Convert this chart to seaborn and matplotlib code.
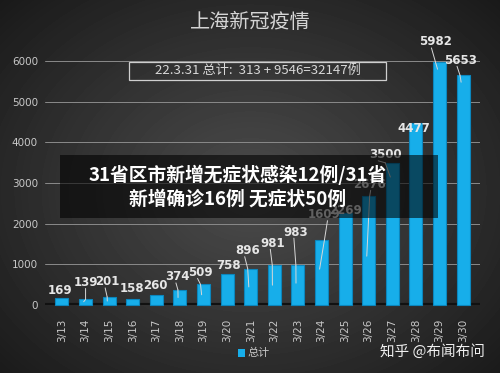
import numpy as np
import pandas as pd
import matplotlib
matplotlib.use("Agg")
import matplotlib.pyplot as plt
import seaborn as sns
from matplotlib.patches import Rectangle

dates = ["3/13", "3/14", "3/15", "3/16", "3/17", "3/18", "3/19", "3/20", "3/21",
         "3/22", "3/23", "3/24", "3/25", "3/26", "3/27", "3/28", "3/29", "3/30"]
totals = [169, 139, 201, 158, 260, 374, 509, 758, 896,
          981, 983, 1609, 2269, 2676, 3500, 4477, 5982, 5653]
y_ticks = [0, 1000, 2000, 3000, 4000, 5000, 6000]

title = "上海新冠疫情"
note = "22.3.31 总计:  313 + 9546=32147例"
banner = "31省区市新增无症状感染12例/31省\n新增确诊16例 无症状50例"
legend_label = "总计"
watermark = "知乎 @布闻布问"

# label offsets from bar top in pixels (dx, dy)
label_offsets = [(-2, 8), (0, 17), (-2, 15), (-1, 10), (-1, 9), (-2, 13), (-3, 12),
                 (1, 9), (-3, 18), (-2, 22), (-2, 33), (3, 25), (0, 2), (1, 12),
                 (-7, 8), (-2, -5), (-4, 20), (-3, 15)]
# leader line end, as fraction of bar height (None = no line)
leader_end = [None, 0.6, 0.5, None, None, 0.5, 0.5, None, 0.5,
              0.5, 0.55, 0.55, None, 0.45, 0.9, None, 0.97, 0.97]

df = pd.DataFrame({"date": dates, "total": totals})

sns.set_theme(style="dark")
plt.rcParams["font.family"] = ["Noto Sans CJK SC", "DejaVu Sans"]

fig = plt.figure(figsize=(5, 3.73), dpi=100)

# radial dark background
bg = fig.add_axes([0, 0, 1, 1], zorder=-10)
yy, xx = np.mgrid[0:373, 0:500]
r = np.sqrt(((xx - 250) / 330.0) ** 2 + ((yy - 190) / 260.0) ** 2)
shade = np.clip(0.30 - 0.19 * r, 0.10, 0.30)
bg.imshow(shade, cmap="gray", vmin=0, vmax=1, aspect="auto", extent=[0, 1, 0, 1])
bg.axis("off")

ax = fig.add_axes([0.09, 0.182, 0.87, 0.654])
ax.set_facecolor("none")
sns.barplot(data=df, x="date", y="total", color="#17aeea", width=0.55,
            edgecolor="#0b86bd", linewidth=0.8, saturation=1, ax=ax, zorder=3)
for p in ax.patches:
    p.set_clip_on(False)

ax.set_xlim(-0.72, len(dates) - 1 + 0.72)
ax.set_ylim(0, 6000)
ax.set_yticks(y_ticks)
ax.set_yticklabels([str(t) for t in y_ticks], color="#c8c8c8", fontsize=7.5,
                   family="DejaVu Sans")
ax.tick_params(axis="x", rotation=90, labelsize=7.5, colors="#c8c8c8", pad=4)
ax.tick_params(axis="y", pad=5, length=0)
ax.set_xlabel("")
ax.set_ylabel("")
for lab in ax.get_xticklabels():
    lab.set_family("DejaVu Sans")
for s in ax.spines.values():
    s.set_visible(False)
ax.grid(False)
for t in y_ticks[1:]:
    ax.axhline(t, color="#8a8a8a", lw=0.7, zorder=1)
ax.axhline(0, color="#111111", lw=3, zorder=2)

for i, v in enumerate(totals):
    dx, dy = label_offsets[i]
    ax.annotate(str(v), xy=(i, v), xytext=(dx, dy), textcoords="offset pixels",
                ha="center", va="center", fontsize=8.5, fontweight="bold",
                color="#e6e6e6", family="DejaVu Sans", zorder=5)
    if leader_end[i] is not None:
        ax.annotate("", xy=(i - 0.08, v * leader_end[i]), xycoords="data",
                    xytext=(i + dx / 23.6, v), textcoords="data",
                    arrowprops=dict(arrowstyle="-", color="#d8d8d8", lw=0.7,
                                    shrinkA=0, shrinkB=0),
                    zorder=5)
        # top of leader starts under the label
        ax.annotate("", xy=(i + dx / 23.6, v), xycoords="data",
                    xytext=(dx, dy - 6), textcoords="offset pixels",
                    arrowprops=dict(arrowstyle="-", color="#d8d8d8", lw=0.7,
                                    shrinkA=0, shrinkB=0),
                    zorder=5)

fig.text(0.5, 0.94, title, ha="center", va="center", fontsize=14.5,
         fontweight="medium", color="#d4d4d4")

fig.patches.append(Rectangle((0.258, 0.786), 0.514, 0.048, transform=fig.transFigure,
                             facecolor="none", edgecolor="#cfcfcf", lw=0.9))
fig.text(0.515, 0.81, note, ha="center", va="center", fontsize=9.5,
         color="#d8d8d8")

fig.patches.append(Rectangle((0.12, 0.415), 0.756, 0.17, transform=fig.transFigure,
                             facecolor="black", alpha=0.58, edgecolor="none",
                             zorder=6))
fig.text(0.475, 0.5, banner, ha="center", va="center", fontsize=13.5,
         fontweight="bold", color="white", linespacing=1.3, zorder=7)

fig.patches.append(Rectangle((0.476, 0.044), 0.014, 0.02, transform=fig.transFigure,
                             facecolor="#17aeea", edgecolor="none"))
fig.text(0.494, 0.054, legend_label, ha="left", va="center", fontsize=8,
         color="#c8c8c8")
fig.text(0.865, 0.057, watermark, ha="center", va="center", fontsize=10.5,
         color="#f0f0f0")

fig.savefig("out.png", dpi=100)
